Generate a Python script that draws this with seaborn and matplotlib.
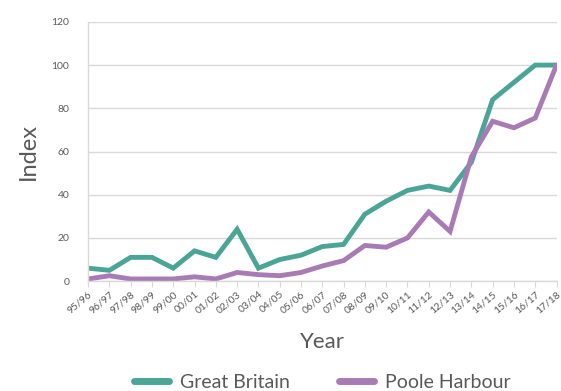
import pandas as pd
import seaborn as sns
import matplotlib.pyplot as plt

years = ['95/96', '96/97', '97/98', '98/99', '99/00', '00/01', '01/02', '02/03',
         '03/04', '04/05', '05/06', '06/07', '07/08', '08/09', '09/10', '10/11',
         '11/12', '12/13', '13/14', '14/15', '15/16', '16/17', '17/18']
great_britain = [6, 5, 11, 11, 6, 14, 11, 24, 6, 10, 12, 16, 17, 31, 37, 42,
                 44, 42, 55, 84, 92, 100, 100]
poole_harbour = [1, 2.5, 1, 1, 1, 2, 1, 4, 3, 2.5, 4, 7, 9.5, 16.5, 15.7, 20,
                 32, 23, 57.5, 74, 71, 75.5, 100]

df = pd.DataFrame({'Year': years * 2,
                   'Index': great_britain + poole_harbour,
                   'Series': ['Great Britain'] * len(years) + ['Poole Harbour'] * len(years)})
df['pos'] = list(range(len(years))) * 2

sns.set_style("white")
plt.rcParams['font.family'] = ['Lato', 'DejaVu Sans']
grey = '#595959'

fig = plt.figure(figsize=(5.61, 3.91), dpi=100)
ax = fig.add_axes([0.157, 0.281, 0.835, 0.663])

sns.lineplot(data=df, x='pos', y='Index', hue='Series', ax=ax, linewidth=3.5,
             palette={'Great Britain': '#4aa597', 'Poole Harbour': '#a97bb5'},
             solid_joinstyle='miter')

ax.set_ylim(0, 120)
ax.set_xlim(0, len(years) - 1)
ax.set_yticks(range(0, 121, 20))
ax.yaxis.grid(True, color='#d9d9d9', linewidth=1)
ax.set_xticks(range(len(years)))
ax.set_xticklabels(years, rotation=40, ha='right', rotation_mode='anchor')
ax.tick_params(axis='x', labelsize=7.5, colors=grey, bottom=True, length=4,
               color='#d9d9d9', pad=2)
ax.tick_params(axis='y', labelsize=7.5, colors=grey, left=False, pad=10)
for s in ['top', 'right']:
    ax.spines[s].set_visible(False)
for s in ['left', 'bottom']:
    ax.spines[s].set_color('#d9d9d9')
    ax.spines[s].set_linewidth(1)

ax.set_xlabel('Year', fontsize=16, color=grey, labelpad=12)
ax.set_ylabel('Index', fontsize=17, color=grey, labelpad=9)

ax.legend(loc='center', bbox_to_anchor=(0.5, -0.39), ncol=2, frameon=False,
          fontsize=14, labelcolor=grey, handlelength=1.8, columnspacing=2.5,
          handletextpad=0.6)
for line in ax.get_legend().get_lines():
    line.set_linewidth(5)
    line.set_solid_capstyle('round')

fig.savefig('out.png', dpi=100)
